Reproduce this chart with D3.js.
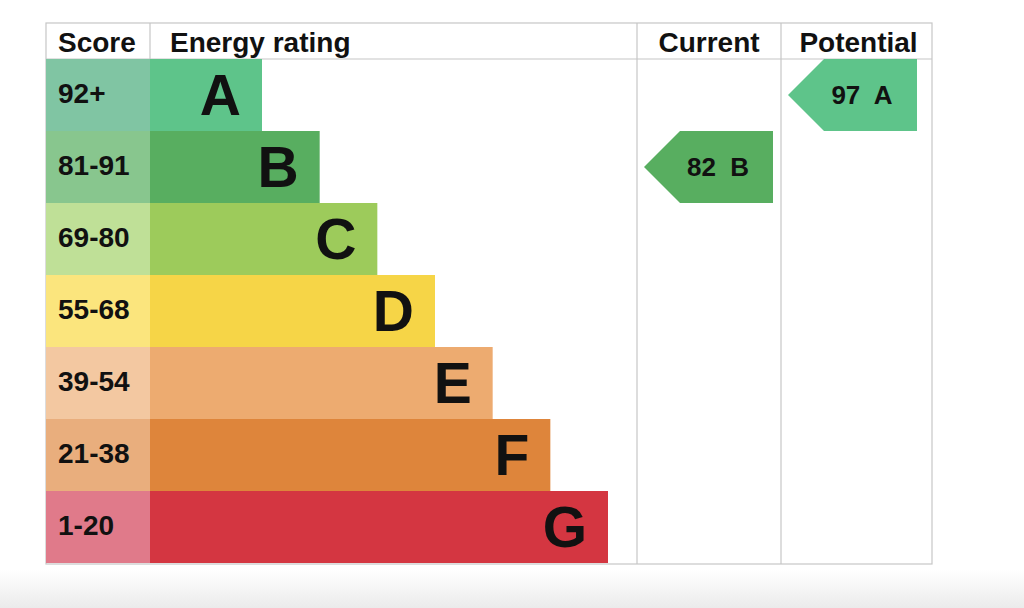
<!DOCTYPE html>
<html>
<head>
<meta charset="utf-8">
<script src="https://cdn.jsdelivr.net/npm/d3@7"></script>
<style>
  html, body { margin: 0; padding: 0; background: #fff; }
  svg { display: block; font-family: "Liberation Sans", Arial, Helvetica, sans-serif; }
</style>
</head>
<body>
<svg id="chart" width="1024" height="608"></svg>
<script>
// rating bands, top to bottom
var bands = ["A", "B", "C", "D", "E", "F", "G"];
var scoreRanges = ["92+", "81-91", "69-80", "55-68", "39-54", "21-38", "1-20"];
var barColors = ["#5ec48a", "#58ae60", "#9dcb5b", "#f6d547", "#edab70", "#de853b", "#d43641"];
var scoreColors = ["#80c5a3", "#88c68e", "#bfe097", "#fbe57d", "#f3c8a1", "#e9ae7d", "#e07a8a"];
var headers = ["Score", "Energy rating", "Current", "Potential"];

var currentScore = 82, currentBand = "B";
var potentialScore = 97, potentialBand = "A";

var svg = d3.select("#chart");

// table geometry
var tLeft = 46, tRight = 932, tTop = 23, headBottom = 59, tBottom = 563;
var colScore = 150, colCurrent = 637, colPotential = 781;

// bottom shadow
var grad = svg.append("defs").append("linearGradient")
    .attr("id", "shade").attr("x1", 0).attr("y1", 0).attr("x2", 0).attr("y2", 1);
grad.append("stop").attr("offset", "0%").attr("stop-color", "#ffffff");
grad.append("stop").attr("offset", "100%").attr("stop-color", "#ebebeb");
svg.append("rect").attr("x", 0).attr("y", 570).attr("width", 1024).attr("height", 38)
    .attr("fill", "url(#shade)");

var y = d3.scaleBand().domain(bands).range([headBottom, tBottom]);
var barEnd = d3.scaleLinear().domain([0, bands.length - 1]).range([262, 608]);

// grid lines
var lineColor = "#c6c6c6";
var grid = svg.append("g").attr("stroke", lineColor).attr("stroke-width", 1.2).attr("fill", "none");
grid.append("rect").attr("x", tLeft).attr("y", tTop).attr("width", tRight - tLeft).attr("height", tBottom + 1 - tTop);
grid.append("line").attr("x1", tLeft).attr("x2", tRight).attr("y1", headBottom).attr("y2", headBottom);
grid.append("line").attr("x1", colScore).attr("x2", colScore).attr("y1", tTop).attr("y2", headBottom);
[colCurrent, colPotential].forEach(function (x) {
    grid.append("line").attr("x1", x).attr("x2", x).attr("y1", tTop).attr("y2", tBottom + 1);
});

// headers
var headX = [58, 170, (colCurrent + colPotential) / 2, (colPotential + tRight) / 2 + 2];
var headAnchor = ["start", "start", "middle", "middle"];
svg.append("g").selectAll("text").data(headers).join("text")
    .attr("x", function (d, i) { return headX[i]; })
    .attr("y", 52)
    .attr("text-anchor", function (d, i) { return headAnchor[i]; })
    .attr("font-size", 28).attr("font-weight", "bold").attr("fill", "#111")
    .text(function (d) { return d; });

// rows
var rows = svg.append("g").selectAll("g").data(bands).join("g")
    .attr("transform", function (d) { return "translate(0," + y(d) + ")"; });

rows.append("rect")
    .attr("x", tLeft).attr("width", colScore - tLeft)
    .attr("height", y.bandwidth())
    .attr("fill", function (d, i) { return scoreColors[i]; });

rows.append("rect")
    .attr("x", colScore)
    .attr("width", function (d, i) { return barEnd(i) - colScore; })
    .attr("height", y.bandwidth())
    .attr("fill", function (d, i) { return barColors[i]; });

rows.append("text")
    .attr("x", 58).attr("y", y.bandwidth() / 2 + 8)
    .attr("font-size", 28).attr("font-weight", "bold").attr("fill", "#111")
    .text(function (d, i) { return scoreRanges[i]; });

rows.append("text")
    .attr("x", function (d, i) { return barEnd(i) - 21; })
    .attr("y", y.bandwidth() / 2 + 20)
    .attr("text-anchor", "end")
    .attr("font-size", 57).attr("font-weight", "bold").attr("fill", "#111")
    .text(function (d) { return d; });

// current / potential arrows
var arrows = [
    { score: currentScore, band: currentBand, tip: colCurrent + 7, end: colCurrent + 136 },
    { score: potentialScore, band: potentialBand, tip: colPotential + 7, end: colPotential + 136 }
];

var arrowG = svg.append("g").selectAll("g").data(arrows).join("g")
    .attr("transform", function (d) { return "translate(0," + y(d.band) + ")"; });

arrowG.append("path")
    .attr("fill", function (d) { return barColors[bands.indexOf(d.band)]; })
    .attr("d", function (d) {
        var h = y.bandwidth();
        return d3.line()([[d.tip, h / 2], [d.tip + h / 2, 0], [d.end, 0], [d.end, h], [d.tip + h / 2, h]]) + "Z";
    });

arrowG.append("text")
    .attr("x", function (d) { return d.tip + 74; })
    .attr("y", y.bandwidth() / 2 + 9)
    .attr("text-anchor", "middle")
    .attr("font-size", 26).attr("font-weight", "bold").attr("fill", "#111")
    .style("white-space", "pre")
    .text(function (d) { return d.score + "  " + d.band; });
</script>
</body>
</html>
